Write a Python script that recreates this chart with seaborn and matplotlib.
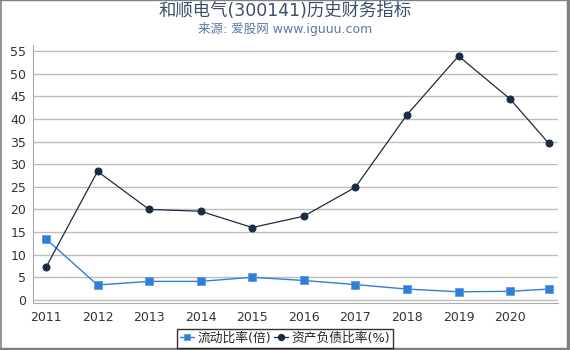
import pandas as pd
import seaborn as sns
import matplotlib.pyplot as plt
from matplotlib.lines import Line2D

# 数据
years = [2011, 2012, 2013, 2014, 2015, 2016, 2017, 2018, 2019, 2020, 2020.75]
current_ratio = [13.5, 3.3, 4.1, 4.1, 5.0, 4.3, 3.4, 2.4, 1.8, 1.9, 2.4]
debt_ratio = [7.2, 28.4, 20.0, 19.6, 16.0, 18.5, 24.9, 40.9, 53.9, 44.4, 34.6]
year_ticks = [2011, 2012, 2013, 2014, 2015, 2016, 2017, 2018, 2019, 2020]
y_ticks = [0, 5, 10, 15, 20, 25, 30, 35, 40, 45, 50, 55]

sns.set_style("white")
plt.rcParams["font.family"] = ["DejaVu Sans", "Noto Sans CJK SC"]

df = pd.DataFrame({"year": years, "cr": current_ratio, "dr": debt_ratio})

fig = plt.figure(figsize=(5.7, 3.5), dpi=100)
ax = fig.add_axes([0.058, 0.134, 0.921, 0.737])

for y in y_ticks:
    ax.axhline(y, color="#bdbdbd", lw=1, zorder=0)

sns.lineplot(data=df, x="year", y="cr", ax=ax, color="#2f7fd8", lw=1,
             marker="s", markersize=5.5, markeredgecolor="#5a9be6",
             markeredgewidth=0.6, label="流动比率(倍)")
sns.lineplot(data=df, x="year", y="dr", ax=ax, color="#1b2b42", lw=0.9,
             marker="o", markersize=5, markeredgecolor="#1b2b42",
             label="资产负债比率(%)")

ax.set_xlim(2010.75, 2020.93)
ax.set_ylim(-0.7, 56.3)
ax.set_xticks(year_ticks)
ax.set_yticks(y_ticks)
ax.set_xlabel("")
ax.set_ylabel("")
ax.tick_params(axis="both", labelsize=9, colors="#333333", length=3,
               width=0.8, pad=2)
ax.tick_params(axis="x", pad=3)
for s in ["top", "right"]:
    ax.spines[s].set_visible(False)
for s in ["left", "bottom"]:
    ax.spines[s].set_color("#aaaaaa")
    ax.spines[s].set_linewidth(0.8)

# 图例放在整张图的水平中央
handles, labels = ax.get_legend_handles_labels()
ax.get_legend().remove()
leg = fig.legend(handles, labels, loc="lower center",
                 bbox_to_anchor=(0.5, 0.006), ncol=2,
                 frameon=True, fancybox=False, fontsize=9.2, handlelength=1.1,
                 handletextpad=0.25, columnspacing=0.25, borderpad=0.25,
                 borderaxespad=0, markerscale=0.9)
leg.get_frame().set_edgecolor("black")
leg.get_frame().set_linewidth(1)

fig.text(0.5, 0.968, "和顺电气(300141)历史财务指标", ha="center", va="center",
         fontsize=12.5, color="#3b4f6b")
fig.text(0.5, 0.918, "来源: 爱股网 www.iguuu.com", ha="center", va="center",
         fontsize=9, color="#5b7aa3")

# 外框: 上、左细, 右、下粗
edge = "#808080"
fig.add_artist(Line2D([0, 1], [0.999, 0.999], transform=fig.transFigure, color=edge, lw=1))
fig.add_artist(Line2D([0.001, 0.001], [0, 1], transform=fig.transFigure, color=edge, lw=1.2))
fig.add_artist(Line2D([0.996, 0.996], [0, 1], transform=fig.transFigure, color=edge, lw=2.5))
fig.add_artist(Line2D([0, 1], [0.004, 0.004], transform=fig.transFigure, color=edge, lw=2.5))

fig.savefig("out.png", dpi=100)
